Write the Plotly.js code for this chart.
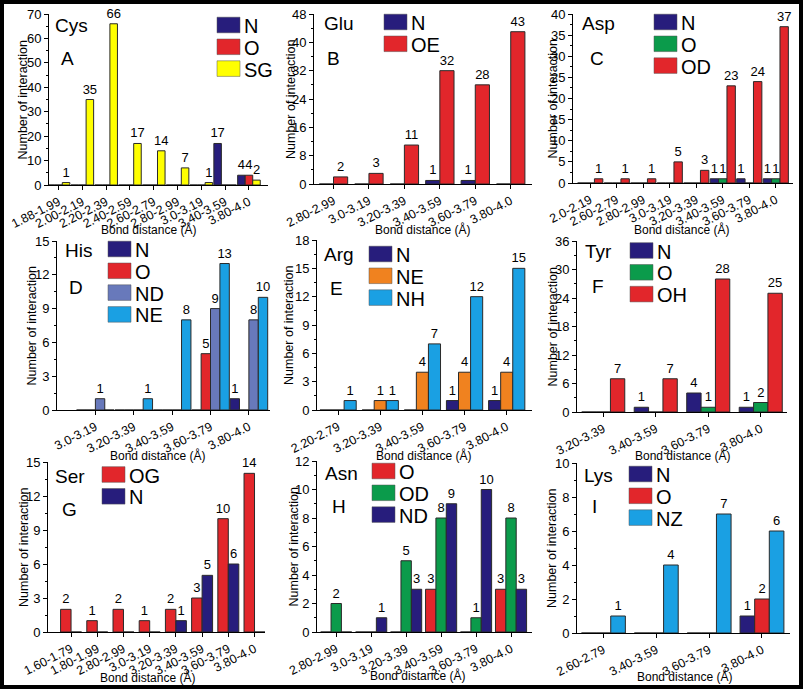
<!DOCTYPE html>
<html>
<head>
<meta charset="utf-8">
<script src="https://cdn.plot.ly/plotly-3.0.1.min.js"></script>
<style>
  html, body { margin: 0; padding: 0; background: #fff; }
  #fig { width: 803px; height: 689px; }
</style>
</head>
<body>
<div id="fig"></div>
<script>
// --- data ------------------------------------------------------
const cysBins = ['1.88-1.99','2.00-2.19','2.20-2.39','2.40-2.59','2.60-2.79','2.80-2.99','3.0-3.19','3.40-3.59','3.80-4.0']
const cysN  = [0,0,0,0,0,0,0,17,4]
const cysO  = [0,0,0,0,0,0,0,0,4]
const cysSG = [1,35,66,17,14,7,1,0,2]

const gluBins = ['2.80-2.99','3.0-3.19','3.20-3.39','3.40-3.59','3.60-3.79','3.80-4.0']
const gluN  = [0,0,0,1,1,0]
const gluOE = [2,3,11,32,28,43]

const aspBins = ['2.0-2.19','2.60-2.79','2.80-2.99','3.0-3.19','3.20-3.39','3.40-3.59','3.60-3.79','3.80-4.0']
const aspN  = [0,0,0,0,0,1,1,1]
const aspO  = [0,0,0,0,0,1,0,1]
const aspOD = [1,1,1,5,3,23,24,37]

const hisBins = ['3.0-3.19','3.20-3.39','3.40-3.59','3.60-3.79','3.80-4.0']
const hisN  = [0,0,0,0,1]
const hisO  = [0,0,0,5,0]
const hisND = [1,0,0,9,8]
const hisNE = [0,1,8,13,10]

const argBins = ['2.20-2.79','3.20-3.39','3.40-3.59','3.60-3.79','3.80-4.0']
const argN  = [0,0,0,1,1]
const argNE = [0,1,4,4,4]
const argNH = [1,1,7,12,15]

const tyrBins = ['3.20-3.39','3.40-3.59','3.60-3.79','3.80-4.0']
const tyrN  = [0,1,4,1]
const tyrO  = [0,0,1,2]
const tyrOH = [7,7,28,25]

const serBins = ['1.60-1.79','1.80-1.99','2.80-2.99','3.0-3.19','3.20-3.39','3.40-3.59','3.60-3.79','3.80-4.0']
const serOG = [2,1,2,1,2,3,10,14]
const serN  = [0,0,0,0,1,5,6,0]

const asnBins = ['2.80-2.99','3.0-3.19','3.20-3.39','3.40-3.59','3.60-3.79','3.80-4.0']
const asnO  = [0,0,0,3,0,3]
const asnOD = [2,0,5,8,1,8]
const asnND = [0,1,3,9,10,3]

const lysBins = ['2.60-2.79','3.40-3.59','3.60-3.79','3.80-4.0']
const lysN  = [0,0,0,1]
const lysO  = [0,0,0,2]
const lysNZ = [1,4,7,6]

const xTitle = 'Bond distance (Å)'
const yTitle = 'Number of interaction'

// --- colours / sizes -------------------------------------------
const NAVY = '#271d7c', RED = '#e2262b', YELLOW = '#ffff00', GREEN = '#0b9b4b'
const SLATE = '#6879bb', SKY = '#1aa0e3', ORANGE = '#f0821f'
const FONT = 'Arial, "Liberation Sans", sans-serif'
const W = 803, H = 689
let px = x => x / W
let py = y => 1 - y / H

// box = [left, right, top, bottom] of the plot area in pixels
// xt / yt = centre of the x and y axis titles in pixels
let panels = [
  {bins: cysBins, series: [['N', cysN, NAVY], ['O', cysO, RED], ['SG', cysSG, YELLOW]],
   name: 'Cys', letter: 'A', ymax: 70, dtick: 10, minor: 5, xr: [-0.4, 8.8], gap: 0.05,
   box: [49, 268, 14, 185], nameAt: [53, 25], letterAt: [59, 59], leg: [217, 25],
   xt: [148, 229], yt: 22},
  {bins: gluBins, series: [['N', gluN, NAVY], ['OE', gluOE, RED]],
   name: 'Glu', letter: 'B', ymax: 48, dtick: 8, minor: 4, xr: [-0.55, 5.6], gap: 0.2,
   box: [314, 532, 14, 184], nameAt: [322, 24], letterAt: [325, 58], leg: [384, 22],
   xt: [422, 229], yt: 291},
  {bins: aspBins, series: [['N', aspN, NAVY], ['O', aspO, GREEN], ['OD', aspOD, RED]],
   name: 'Asp', letter: 'C', ymax: 40, dtick: 5, minor: 2.5, xr: [-0.65, 7.65], gap: 0.05,
   box: [573, 793, 14, 183], nameAt: [580, 24], letterAt: [588, 58], leg: [654, 22],
   xt: [681, 229], yt: 552},
  {bins: hisBins, series: [['N', hisN, NAVY], ['O', hisO, RED], ['ND', hisND, SLATE], ['NE', hisNE, SKY]],
   name: 'His', letter: 'D', ymax: 15, dtick: 3, minor: 1.5, xr: [-1, 4.55], gap: 0.02,
   box: [57, 270, 241, 410], nameAt: [63, 250], letterAt: [67, 287], leg: [108, 249],
   xt: [157, 455], yt: 31},
  {bins: argBins, series: [['N', argN, NAVY], ['NE', argNE, ORANGE], ['NH', argNH, SKY]],
   name: 'Arg', letter: 'E', ymax: 18, dtick: 3, minor: 1.5, xr: [-0.5, 4.6], gap: 0.14,
   box: [317, 532, 240, 410], nameAt: [322, 254], letterAt: [328, 288], leg: [369, 254],
   xt: [423, 455], yt: 289},
  {bins: tyrBins, series: [['N', tyrN, NAVY], ['O', tyrO, GREEN], ['OH', tyrOH, RED]],
   name: 'Tyr', letter: 'F', ymax: 36, dtick: 6, minor: 3, xr: [-0.5, 3.5], gap: 0.18,
   box: [577, 787, 241, 412], nameAt: [583, 251], letterAt: [590, 286], leg: [630, 250.5],
   xt: [682, 455], yt: 553},
  {bins: serBins, series: [['OG', serOG, RED], ['N', serN, NAVY]],
   name: 'Ser', letter: 'G', ymax: 15, dtick: 3, minor: 1.5, xr: [-0.88, 7.4], gap: 0.2,
   box: [48, 265, 462, 632], nameAt: [53, 476], letterAt: [60, 509], leg: [102, 474.5],
   xt: [147, 677], yt: 24},
  {bins: asnBins, series: [['O', asnO, RED], ['OD', asnOD, GREEN], ['ND', asnND, NAVY]],
   name: 'Asn', letter: 'H', ymax: 12, dtick: 2, minor: 1, xr: [-0.55, 5.6], gap: 0.11,
   box: [317, 532, 461, 632], nameAt: [323, 473], letterAt: [330, 506], leg: [372, 471],
   xt: [417, 675], yt: 293},
  {bins: lysBins, series: [['N', lysN, NAVY], ['O', lysO, RED], ['NZ', lysNZ, SKY]],
   name: 'Lys', letter: 'I', ymax: 10, dtick: 2, minor: 1, xr: [-0.5, 3.53], gap: 0.17,
   box: [577, 790, 463, 633], nameAt: [582, 475], letterAt: [590, 507], leg: [629, 474],
   xt: [684, 676], yt: 552},
]

let data = []
let layout = {
  width: W, height: H,
  margin: {l: 0, r: 0, t: 0, b: 0},
  paper_bgcolor: '#fff', plot_bgcolor: '#fff',
  showlegend: false,
  barmode: 'overlay',
  font: {family: FONT, color: '#000', size: 12},
  shapes: [], annotations: []
}

let addText = function(x, y, text, size, extra) {
  layout.annotations.push(Object.assign({
    xref: 'paper', yref: 'paper', x: px(x), y: py(y),
    xanchor: 'left', yanchor: 'middle', showarrow: false,
    text: text, font: {family: FONT, size: size, color: '#000'}
  }, extra || {}))
}

panels.forEach(function(p, i) {
  let sfx = i === 0 ? '' : String(i + 1)
  let n = p.series.length
  let slot = (1 - p.gap) / n

  p.series.forEach(function(s, k) {
    data.push({
      type: 'bar',
      name: s[0],
      x: p.bins,
      y: s[1],
      xaxis: 'x' + sfx, yaxis: 'y' + sfx,
      width: slot,
      offset: -(1 - p.gap) / 2 + k * slot,
      marker: {color: s[2], line: {color: '#2a2a2a', width: 1}},
      text: s[1].map(v => v ? String(v) : ''),
      textposition: 'outside',
      constraintext: 'none',
      cliponaxis: false,
      textfont: {family: FONT, size: 13, color: '#000'},
      hoverinfo: 'x+y+name'
    })

    // legend swatch + label
    let cy = p.leg[1] + k * 21.8
    layout.shapes.push({
      type: 'rect', xref: 'paper', yref: 'paper', layer: 'above',
      x0: px(p.leg[0]), x1: px(p.leg[0] + 23), y0: py(cy - 7.8), y1: py(cy + 7.8),
      fillcolor: s[2], line: {color: '#555', width: 0.5}
    })
    addText(p.leg[0] + 25, cy + 1, s[0], 20)
  })

  layout['xaxis' + sfx] = {
    type: 'category', anchor: 'y' + sfx,
    domain: [px(p.box[0]), px(p.box[1])],
    range: p.xr, dtick: 1, tick0: 0,
    showline: true, linecolor: '#000', linewidth: 1,
    ticks: 'outside', ticklen: 4, tickwidth: 1, tickcolor: '#000',
    tickangle: -27, tickfont: {size: 12.5},
    showgrid: false, zeroline: false
  }
  layout['yaxis' + sfx] = {
    anchor: 'x' + sfx,
    domain: [py(p.box[3]), py(p.box[2])],
    range: [0, p.ymax], dtick: p.dtick, tick0: 0,
    showline: true, linecolor: '#000', linewidth: 1,
    ticks: 'outside', ticklen: 4, tickwidth: 1, tickcolor: '#000',
    minor: {ticks: 'outside', ticklen: 2, dtick: p.minor, tickcolor: '#000'},
    tickfont: {size: 13},
    showgrid: false, zeroline: false
  }

  // axis titles
  addText(p.xt[0], p.xt[1], xTitle, 12, {xanchor: 'center'})
  addText(p.yt, (p.box[2] + p.box[3]) / 2, yTitle, 12.5, {xanchor: 'center', textangle: -90})

  // residue name and panel letter
  addText(p.nameAt[0], p.nameAt[1], p.name, 19)
  addText(p.letterAt[0], p.letterAt[1], p.letter, 19)
})

// thick outer frame
layout.shapes.push({
  type: 'rect', xref: 'paper', yref: 'paper', layer: 'above',
  x0: px(2), x1: px(801), y0: py(2), y1: py(687),
  line: {color: '#000', width: 4}, fillcolor: 'rgba(0,0,0,0)'
})

Plotly.newPlot('fig', data, layout, {displayModeBar: false, staticPlot: true})
</script>
</body>
</html>
